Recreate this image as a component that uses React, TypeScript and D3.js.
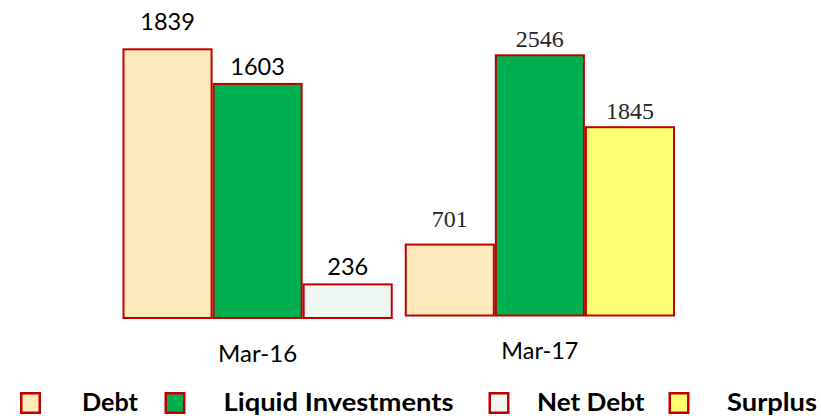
import React, { useEffect } from "react";
import * as d3 from "d3";

const categories = ["Mar-16", "Mar-17"];
const debt = [1839, 701];
const liquidInvestments = [1603, 2546];
const netDebt = [236, 0];
const surplus = [0, 1845];
const seriesNames = ["Debt", "Liquid Investments", "Net Debt", "Surplus"];

const W = 821;
const H = 416;

const COLORS: Record<string, string> = {
  Debt: "#FDE9B9",
  "Liquid Investments": "#00B050",
  "Net Debt": "#EFF8F3",
  Surplus: "#FFFF71",
};
const STROKE = "#C00000";

// gap between bar top and label baseline, per group and slot
const LABEL_GAP = [
  [18.5, 8, 8],
  [17, 7, 7.5],
];

export default function App() {
  useEffect(() => {
    document.body.style.margin = "0";
  }, []);

  const x0 = d3.scaleBand<string>().domain(categories).range([122.5, 675]).paddingInner(0.0425).paddingOuter(0);
  const slots = ["s0", "s1", "s2"];
  const x1 = d3.scaleBand<string>().domain(slots).range([0, x0.bandwidth()]).padding(0);

  // each panel has its own value scale in the original picture
  const yScales = [
    d3.scaleLinear().domain([0, 2000]).range([318, 318 - 293.3]),
    d3.scaleLinear().domain([0, 3000]).range([315.5, 315.5 - 307.8]),
  ];

  const groups = categories.map((c, i) => {
    const third = netDebt[i] > 0 ? { name: "Net Debt", v: netDebt[i] } : { name: "Surplus", v: surplus[i] };
    return {
      cat: c,
      idx: i,
      bars: [
        { name: "Debt", v: debt[i] },
        { name: "Liquid Investments", v: liquidInvestments[i] },
        third,
      ],
    };
  });

  const labelFont = [
    { family: "Lato, 'Open Sans', sans-serif", size: 23.5, fill: "#000" },
    { family: "'Liberation Serif', 'DejaVu Serif', serif", size: 24, fill: "#262626" },
  ];

  const catLabelBase = [361.5, 358.5];
  const catLabelLen = [79, 77];

  const legendSquareX = [20, 164.5, 488.5, 668.5];
  const legendTextX = [82, 223.5, 537, 727];
  const legendTextLen = [56, 230, 107.5, 90];

  return (
    <svg width={W} height={H} style={{ position: "absolute", left: 0, top: 0, background: "#fff" }}>
      {groups.map((g) => {
        const y = yScales[g.idx];
        const gx = x0(g.cat)!;
        const f = labelFont[g.idx];
        return (
          <g key={g.cat}>
            {g.bars.map((b, j) => {
              const bx = gx + x1(slots[j])!;
              const top = y(b.v);
              const base = y(0);
              return (
                <g key={b.name}>
                  <rect
                    x={bx + 1}
                    y={top + 1}
                    width={x1.bandwidth() - 2}
                    height={base - top - 1}
                    fill={COLORS[b.name]}
                    stroke={STROKE}
                    strokeWidth={2}
                  />
                  <text
                    x={bx + x1.bandwidth() / 2}
                    y={top - LABEL_GAP[g.idx][j]}
                    textAnchor="middle"
                    fontFamily={f.family}
                    fontSize={f.size}
                    fill={f.fill}
                  >
                    {b.v}
                  </text>
                </g>
              );
            })}
            <text
              x={gx + x0.bandwidth() / 2}
              y={catLabelBase[g.idx]}
              textAnchor="middle"
              fontFamily="Lato, 'Open Sans', sans-serif"
              fontSize={23}
              fill="#000"
              textLength={catLabelLen[g.idx]}
              lengthAdjust="spacingAndGlyphs"
            >
              {g.cat}
            </text>
          </g>
        );
      })}
      {seriesNames.map((s, i) => (
        <g key={s}>
          <rect
            x={legendSquareX[i] + 1.25}
            y={392 + 1.25}
            width={21 - 2.5}
            height={22 - 2.5}
            fill={COLORS[s]}
            stroke={STROKE}
            strokeWidth={2.5}
          />
          <text
            x={legendTextX[i]}
            y={411}
            fontFamily="Lato, 'Open Sans', sans-serif"
            fontWeight="bold"
            fontSize={24.5}
            fill="#000"
            textLength={legendTextLen[i]}
            lengthAdjust="spacingAndGlyphs"
          >
            {s}
          </text>
        </g>
      ))}
    </svg>
  );
}
